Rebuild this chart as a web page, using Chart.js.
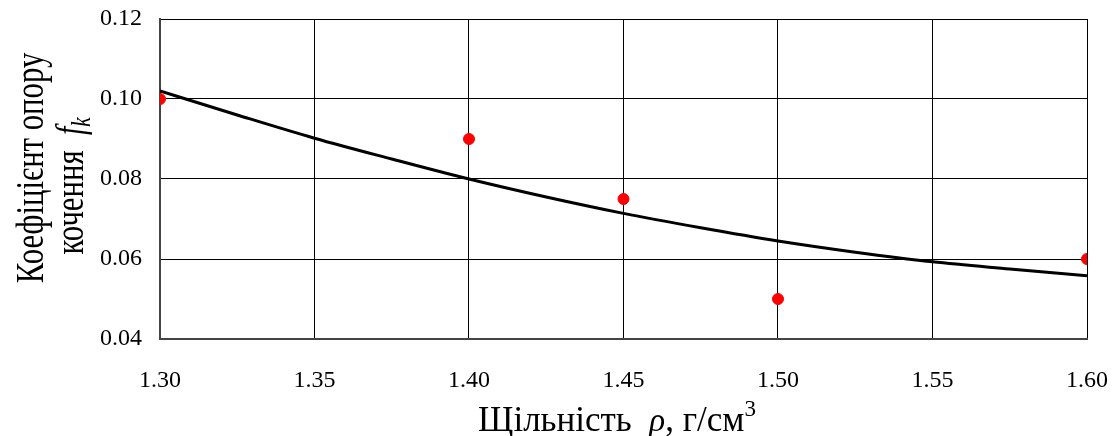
<!DOCTYPE html>
<html>
<head>
<meta charset="utf-8">
<script src="https://cdn.jsdelivr.net/npm/chart.js@4.4.1/dist/chart.umd.min.js"></script>
<style>
  html, body { margin: 0; padding: 0; background: #fff; }
  canvas { display: block; }
</style>
</head>
<body>
<canvas id="chart" width="1120" height="436"></canvas>
<script>
// Measured points (density vs rolling resistance coefficient)
const density = [1.30, 1.40, 1.45, 1.50, 1.60];
const coefficient = [0.100, 0.090, 0.075, 0.050, 0.060];

// Trend curve
const trendX = [1.30, 1.325, 1.35, 1.375, 1.40, 1.425, 1.45, 1.475, 1.50, 1.525, 1.55, 1.575, 1.60];
const trendY = [0.102, 0.096, 0.0902, 0.0850, 0.0800, 0.0755, 0.0714, 0.0678, 0.0645, 0.0617, 0.0593, 0.0575, 0.0558];

const xTicks = [1.30, 1.35, 1.40, 1.45, 1.50, 1.55, 1.60];
const yTicks = [0.04, 0.06, 0.08, 0.10, 0.12];

const FONT = '"Liberation Serif", "Times New Roman", serif';

// draw a line of text made of differently styled pieces
// sx squeezes the text along its direction
function drawRich(ctx, segs, cx, cy, angle, sx) {
    ctx.save();
    ctx.translate(cx, cy);
    ctx.rotate(angle);
    ctx.scale(sx, 1);
    ctx.textBaseline = 'alphabetic';
    ctx.textAlign = 'left';
    let total = 0;
    segs.forEach(s => {
        ctx.font = s.font;
        s.w = ctx.measureText(s.text).width;
        total += s.w;
    });
    let x = -total / 2;
    segs.forEach(s => {
        ctx.font = s.font;
        ctx.fillStyle = '#000';
        ctx.fillText(s.text, x, s.dy || 0);
        x += s.w;
    });
    ctx.restore();
}

const axisTitles = {
    id: 'axisTitles',
    afterDraw(chart) {
        const ctx = chart.ctx;
        // rotated: the x given is the baseline, the y is the centre
        drawRich(ctx, [
            { text: 'Коефіцієнт опору', font: '41px ' + FONT }
        ], 43, 168, -Math.PI / 2, 0.75);
        drawRich(ctx, [
            { text: 'кочення  ', font: '41px ' + FONT },
            { text: 'f', font: 'italic 40px ' + FONT },
            { text: 'k', font: 'italic 28px ' + FONT, dy: 7 }
        ], 83, 186, -Math.PI / 2, 0.75);
        drawRich(ctx, [
            { text: 'Щільність  ', font: '35px ' + FONT },
            { text: 'ρ', font: 'italic 33px ' + FONT },
            { text: ', г/см', font: '35px ' + FONT },
            { text: '3', font: '23px ' + FONT, dy: -15 }
        ], 617, 431, 0, 1);
    }
};

new Chart(document.getElementById('chart'), {
    data: {
        datasets: [{
            type: 'scatter',
            data: density.map((x, i) => ({ x: x, y: coefficient[i] })),
            backgroundColor: '#ff0000',
            borderColor: '#ff0000',
            pointRadius: 5.5,
            order: 1
        }, {
            type: 'line',
            data: trendX.map((x, i) => ({ x: x, y: trendY[i] })),
            borderColor: '#000',
            borderWidth: 3,
            pointRadius: 0,
            fill: false,
            cubicInterpolationMode: 'monotone',
            order: 2
        }]
    },
    options: {
        responsive: false,
        animation: false,
        layout: { autoPadding: false, padding: { top: 19, right: 33, left: 0, bottom: 0 } },
        plugins: {
            legend: { display: false },
            tooltip: { enabled: false }
        },
        scales: {
            x: {
                type: 'linear',
                min: 1.30,
                max: 1.60,
                afterBuildTicks: s => { s.ticks = xTicks.map(v => ({ value: v })); },
                afterFit: s => { s.height = 97; s.paddingLeft = 0; s.paddingRight = 0; },
                ticks: {
                    callback: v => v.toFixed(2),
                    color: '#000',
                    font: { family: FONT, size: 24 },
                    padding: 27
                },
                grid: { color: '#000', lineWidth: 1, drawTicks: false },
                border: { color: '#444', width: 2 }
            },
            y: {
                type: 'linear',
                min: 0.04,
                max: 0.12,
                afterBuildTicks: s => { s.ticks = yTicks.map(v => ({ value: v })); },
                afterFit: s => { s.width = 160; s.paddingTop = 0; s.paddingBottom = 0; },
                ticks: {
                    callback: v => v.toFixed(2),
                    color: '#000',
                    font: { family: FONT, size: 24 },
                    padding: 18
                },
                grid: { color: '#000', lineWidth: 1, drawTicks: false },
                border: { color: '#444', width: 2 }
            }
        }
    },
    plugins: [axisTitles]
});
</script>
</body>
</html>
